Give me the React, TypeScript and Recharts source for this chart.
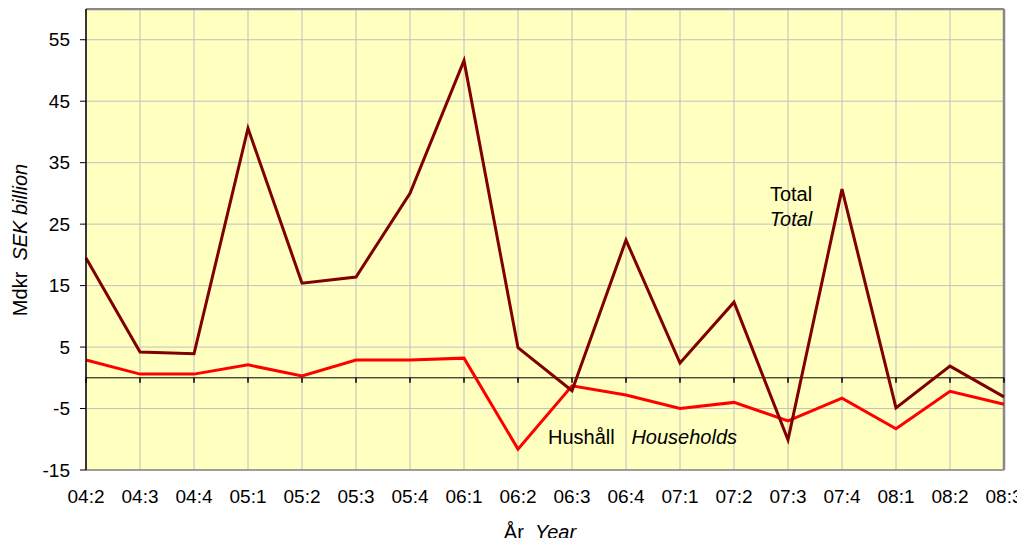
import React from "react";
import {
  ComposedChart,
  Line,
  XAxis,
  YAxis,
  CartesianGrid,
  ReferenceLine,
} from "recharts";

const categories = [
  "04:2", "04:3", "04:4", "05:1", "05:2", "05:3", "05:4", "06:1", "06:2",
  "06:3", "06:4", "07:1", "07:2", "07:3", "07:4", "08:1", "08:2", "08:3",
];
const totalValues = [
  19.5, 4.2, 3.9, 40.6, 15.4, 16.4, 30.0, 51.6, 4.9,
  -2.1, 22.4, 2.4, 12.3, -10.1, 30.7, -4.9, 1.9, -3.1,
];
const householdValues = [
  2.9, 0.6, 0.6, 2.1, 0.3, 2.9, 2.9, 3.2, -11.6,
  -1.3, -2.8, -5.0, -4.0, -7.0, -3.3, -8.3, -2.2, -4.3,
];
const yTicks = [-15, -5, 5, 15, 25, 35, 45, 55];

const data = categories.map((c, i) => ({
  cat: c,
  total: totalValues[i],
  households: householdValues[i],
  zero: 0,
}));

const FONT = '"Liberation Sans", Arial, sans-serif';

const ZeroTick = (props: any) => {
  const { cx, cy } = props;
  if (cx == null || cy == null) return null;
  return <line x1={cx} y1={cy} x2={cx} y2={cy + 5} stroke="#000" strokeWidth={1.5} />;
};

export default function App() {
  return (
    <div style={{ position: "relative", width: 1009, height: 530, fontFamily: FONT }}>
      <style>{`svg.recharts-surface { overflow: visible; } html, body { overflow: hidden; }`}</style>
      <ComposedChart
        width={1009}
        height={530}
        data={data}
        margin={{ top: 1, right: 13, bottom: 0, left: 0 }}
        style={{ overflow: "visible" }}
      >
        <CartesianGrid
          stroke="#c0c0c0"
          strokeWidth={1}
          fill="#FFFFC0"
          fillOpacity={1}
        />
        <XAxis
          dataKey="cat"
          scale="point"
          padding={{ left: 0, right: 0 }}
          height={68}
          axisLine={false}
          tickLine={false}
          tickSize={6}
          tickMargin={14}
          interval={0}
          tick={{ fill: "#000", fontSize: 19, fontFamily: FONT }}
        />
        <YAxis
          domain={[-15, 60]}
          ticks={yTicks}
          width={78}
          axisLine={{ stroke: "#000", strokeWidth: 1.5 }}
          tickLine={{ stroke: "#000" }}
          tickSize={6}
          tickMargin={10}
          allowDataOverflow
          tick={{ fill: "#000", fontSize: 19, fontFamily: FONT }}
        />
        <ReferenceLine y={60} stroke="#888" strokeWidth={2.5} />
        <ReferenceLine y={-15} stroke="#888" strokeWidth={1.5} />
        <ReferenceLine x="08:3" stroke="#888" strokeWidth={2.5} />
        <Line
          dataKey="zero"
          stroke="#000"
          strokeWidth={1}
          dot={<ZeroTick />}
          activeDot={false}
          isAnimationActive={false}
        />
        <Line
          dataKey="households"
          stroke="#FF0000"
          strokeWidth={3}
          dot={false}
          activeDot={false}
          isAnimationActive={false}
        />
        <Line
          dataKey="total"
          stroke="#800000"
          strokeWidth={3}
          dot={false}
          activeDot={false}
          isAnimationActive={false}
        />
      </ComposedChart>
      <div style={{ position: "absolute", left: 743, top: 174, width: 80, textAlign: "center", fontSize: 20, lineHeight: "25px", color: "#000" }}>
        <div>Total</div>
        <div style={{ fontStyle: "italic" }}>Total</div>
      </div>
      <div style={{ position: "absolute", left: 540, top: 417, fontSize: 20, lineHeight: "24px", whiteSpace: "nowrap", color: "#000" }}>
        Hushåll&nbsp;&nbsp; <i>Households</i>
      </div>
      <div style={{ position: "absolute", left: 400, top: 513, width: 264, textAlign: "center", fontSize: 20, lineHeight: "22px", whiteSpace: "nowrap", color: "#000" }}>
        År&nbsp; <i>Year</i>
      </div>
      <div style={{ position: "absolute", left: 12, top: 232, width: 0, height: 0 }}>
        <div style={{ position: "absolute", left: 0, top: 0, transform: "translate(-50%, -50%) rotate(-90deg)", fontSize: 20, lineHeight: "22px", whiteSpace: "nowrap", color: "#000" }}>
          Mdkr&nbsp; <i>SEK billion</i>
        </div>
      </div>
    </div>
  );
}
